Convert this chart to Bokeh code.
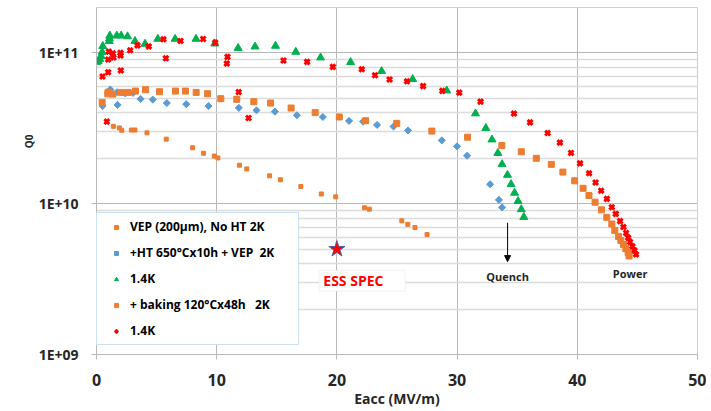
import math
from bokeh.plotting import figure
from bokeh.models import (Legend, LegendItem, FixedTicker, Title,
                          CustomJSTickFormatter, Label, Arrow, NormalHead,
                          BoxAnnotation, Range1d)
from bokeh.embed import file_html
from bokeh.resources import INLINE

FONT = "Open Sans"

# ---- data ----
vep_x = [1.4, 1.9, 2.1, 2.9, 3.2, 4.2, 5.8, 8.0, 8.9, 9.8, 10.1, 11.9, 12.5, 14.4,
         15.3, 17.0, 18.7, 19.9, 22.3, 22.7, 25.4, 25.9, 26.5, 27.5]
vep_q = [3.26e10, 3.18e10, 3.07e10, 3.08e10, 3.08e10, 2.95e10, 2.68e10, 2.35e10,
         2.16e10, 2.07e10, 2.01e10, 1.80e10, 1.70e10, 1.53e10, 1.44e10, 1.30e10,
         1.16e10, 1.11e10, 9.4e9, 9.2e9, 7.7e9, 7.3e9, 6.95e9, 6.25e9]

ht_x = [0.50, 1.15, 1.75, 1.71, 2.40, 3.04, 3.67, 4.68, 5.85, 7.47, 9.32, 11.84,
        13.31, 14.84, 16.67, 18.83, 21.01, 22.18, 23.34, 24.71, 25.92, 28.73,
        29.99, 30.83, 32.75, 33.48, 33.74]
ht_q = [4.44e10, 5.72e10, 4.52e10, 5.49e10, 5.39e10, 5.43e10, 4.95e10, 4.90e10,
        4.65e10, 4.57e10, 4.44e10, 4.32e10, 4.16e10, 4.08e10, 3.86e10, 3.76e10,
        3.54e10, 3.50e10, 3.33e10, 3.25e10, 3.06e10, 2.63e10, 2.40e10, 2.08e10,
        1.345e10, 1.06e10, 9.45e9]

ht14_x = [0.02, 0.15, 0.27, 0.38, 0.47, 0.52, 1.06, 1.08, 1.11, 1.69, 2.05, 2.58,
          3.20, 4.04, 5.10, 6.54, 8.28, 9.84, 11.78, 13.19, 14.89, 16.58, 18.64,
          21.14, 23.72, 26.30, 29.14, 31.53, 32.39, 32.90, 33.39, 33.74, 34.19,
          34.49, 34.78, 35.07, 35.34, 35.55]
ht14_q = [8.70e10, 8.83e10, 9.10e10, 9.50e10, 1.012e11, 1.109e11, 1.196e11,
          1.243e11, 1.30e11, 1.30e11, 1.30e11, 1.285e11, 1.196e11, 1.147e11,
          1.237e11, 1.237e11, 1.237e11, 1.152e11, 1.076e11, 1.10e11, 1.112e11,
          1.015e11, 9.31e10, 8.67e10, 7.56e10, 6.69e10, 5.62e10, 3.96e10,
          3.17e10, 2.66e10, 2.165e10, 1.825e10, 1.55e10, 1.345e10, 1.179e10,
          1.04e10, 9.17e9, 8.15e9]

bake_x = [0.47, 0.94, 0.97, 1.36, 2.08, 2.63, 3.24, 4.08, 5.24, 6.57, 7.40, 8.29,
          9.23, 10.34, 11.67, 13.09, 14.48, 16.19, 18.19, 20.20, 22.39, 24.98,
          27.90, 30.87, 33.72, 35.34, 36.59, 37.84, 38.80, 39.78, 40.48, 40.97,
          41.48, 42.01, 42.45, 42.87, 43.12, 43.43, 43.62, 43.84, 44.04, 44.23,
          44.31]
bake_q = [4.68e10, 5.35e10, 5.49e10, 5.33e10, 5.47e10, 5.47e10, 5.58e10, 5.70e10,
          5.53e10, 5.58e10, 5.58e10, 5.47e10, 5.36e10, 4.97e10, 4.92e10, 4.75e10,
          4.65e10, 4.31e10, 4.02e10, 3.76e10, 3.55e10, 3.41e10, 3.03e10, 2.76e10,
          2.43e10, 2.21e10, 2.00e10, 1.823e10, 1.62e10, 1.418e10, 1.265e10,
          1.134e10, 1.023e10, 9.10e9, 8.12e9, 7.33e9, 6.64e9, 6.07e9, 5.71e9,
          5.37e9, 5.03e9, 4.73e9, 4.50e9]

bake14_x = [0.50, 0.86, 0.97, 0.97, 1.02, 1.36, 1.41, 2.00, 2.00, 2.02, 2.80, 3.41,
            4.35, 5.57, 5.77, 6.99, 8.87, 9.88, 10.90, 10.84, 11.83, 12.65, 15.56,
            17.52, 19.66, 22.07, 23.17, 24.38, 25.83, 27.17, 28.77, 30.18, 31.95,
            34.73, 36.07, 37.53, 38.55, 39.48, 40.23, 40.98, 41.52, 41.98, 42.46,
            42.87, 43.20, 43.56, 43.84, 44.06, 44.23, 44.39, 44.59, 44.76, 44.89]
bake14_q = [6.97e10, 3.50e10, 7.45e10, 9.03e10, 1.02e11, 9.94e10, 9.31e10, 1.0e11,
            9.60e10, 7.64e10, 1.04e11, 1.122e11, 1.105e11, 1.23e11, 9.21e10,
            1.20e11, 1.237e11, 1.17e11, 9.41e10, 8.50e10, 5.50e10, 3.70e10,
            8.90e10, 8.72e10, 8.08e10, 7.78e10, 7.11e10, 6.66e10, 6.48e10,
            6.02e10, 5.60e10, 5.45e10, 4.75e10, 3.96e10, 3.46e10, 2.94e10,
            2.54e10, 2.17e10, 1.85e10, 1.59e10, 1.382e10, 1.22e10, 1.076e10,
            9.48e9, 8.56e9, 7.66e9, 7.00e9, 6.39e9, 5.95e9, 5.57e9, 5.21e9,
            4.90e9, 4.61e9]

spec_x = [20]
spec_q = [5e9]

labels = ["VEP (200µm), No HT 2K", "+HT 650°Cx10h + VEP  2K", "1.4K",
          "+ baking 120°Cx48h   2K", "1.4K"]
x_ticks = [0, 10, 20, 30, 40, 50]
y_ticks = [1e9, 1e10, 1e11]
y_minor = [m * 10.0 ** e for e in (9, 10) for m in range(2, 10)]

# ---- figure ----
p = figure(width=706, height=410, y_axis_type="log",
           x_range=Range1d(0, 50), y_range=Range1d(1e9, 2e11),
           output_backend="svg", toolbar_location=None,
           min_border_left=96, min_border_right=9, min_border_top=7,
           min_border_bottom=53)
p.background_fill_color = "white"
p.border_fill_color = "white"
p.outline_line_color = "#d0d0d0"
p.outline_line_width = 1

GRID = "#b8b8b8"
MINOR = "#dcdcdc"

p.xaxis.ticker = FixedTicker(ticks=x_ticks)
p.yaxis.ticker = FixedTicker(ticks=y_ticks, minor_ticks=y_minor)
p.yaxis.formatter = CustomJSTickFormatter(
    code="const e = Math.round(Math.log10(tick)); return '1E+' + (e < 10 ? '0' + e : '' + e);")

for ax in (p.xaxis[0], p.yaxis[0]):
    ax.axis_line_color = GRID
    ax.major_tick_line_color = GRID
    ax.major_tick_in = 0
    ax.major_tick_out = 5
    ax.minor_tick_in = 0
    ax.minor_tick_out = 0
    ax.major_label_text_font = FONT
    ax.major_label_text_font_style = "bold"
    ax.major_label_text_color = "#262626"

p.xaxis.major_label_text_font_size = "16px"
p.xaxis.major_label_standoff = 14
p.yaxis.major_label_text_font_size = "14px"
p.yaxis.major_label_standoff = 13

p.xaxis.axis_label = "Eacc (MV/m)"
p.xaxis.axis_label_text_font = FONT
p.xaxis.axis_label_text_font_style = "bold"
p.xaxis.axis_label_text_font_size = "14px"
p.xaxis.axis_label_text_color = "#262626"
p.xaxis.axis_label_standoff = 0

p.add_layout(Title(text="Q0", align="right", offset=127, text_font=FONT,
                   text_font_style="bold", text_font_size="10px",
                   text_color="#262626", standoff=0), "left")

p.xgrid.grid_line_color = GRID
p.ygrid.grid_line_color = GRID
p.ygrid.minor_grid_line_color = MINOR
p.ygrid.minor_grid_line_width = 1.5

ORANGE = "#ED7D31"
BLUE = "#5B9BD5"
GREEN = "#00B050"
RED = "#FF0000"

r1 = p.scatter(vep_x, vep_q, marker="square", size=4, color=ORANGE)
r2 = p.scatter(ht_x, ht_q, marker="square", angle=math.pi / 4, size=5, color=BLUE)
r3 = p.scatter(ht14_x, ht14_q, marker="triangle", size=8, color=GREEN)
r4 = p.scatter(bake_x, bake_q, marker="square", size=6, color=ORANGE)
r5 = p.scatter(bake14_x, bake14_q, marker="x", size=7, line_width=3, color=RED)

# ESS spec star
p.scatter(spec_x, spec_q, marker="star", size=17, fill_color=RED,
          line_color="#4F5FA8", line_width=1)

# ESS SPEC box + text
p.add_layout(BoxAnnotation(left=18.52, right=25.67, bottom=2.63e9, top=3.62e9,
                           fill_color="white", fill_alpha=1.0,
                           line_color="#d6d6d6", line_width=1))
p.add_layout(Label(x=18.87, y=3.09e9, text="ESS SPEC", text_font=FONT,
                   text_font_style="bold", text_font_size="14px",
                   text_color=RED, text_align="left", text_baseline="middle"))

# Quench arrow and text
p.add_layout(Arrow(end=NormalHead(size=6, fill_color="black", line_color="black"),
                   x_start=34.2, y_start=7.47e9, x_end=34.2, y_end=4.13e9,
                   line_color="black", line_width=1))
for tx, ty, tt in ((34.2, 3.29e9, "Quench"), (44.4, 3.44e9, "Power")):
    p.add_layout(Label(x=tx, y=ty, text=tt, text_font=FONT, text_font_style="bold",
                       text_font_size="11px", text_color="#262626",
                       text_align="center", text_baseline="middle"))

legend = Legend(items=[LegendItem(label=l, renderers=[r])
                       for l, r in zip(labels, [r1, r2, r3, r4, r5])],
                location=(0, 9), padding=5, spacing=9, margin=0,
                glyph_width=28, glyph_height=10, label_height=10,
                label_standoff=0, label_width=163,
                label_text_font=FONT, label_text_font_style="bold",
                label_text_font_size="12px", label_text_color="black",
                border_line_color="#9DC3E6", border_line_width=1,
                background_fill_color="white", background_fill_alpha=1.0)
p.add_layout(legend)

open("out.html", "w").write(file_html(p, INLINE))
